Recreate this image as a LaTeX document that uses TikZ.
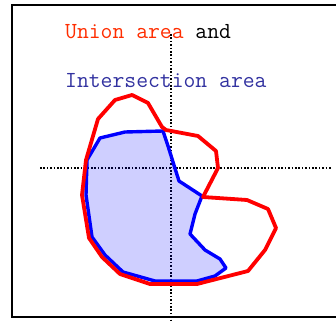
\documentclass[tikz,border=0pt]{standalone}
\usepackage{xcolor}
\usepackage{tikz}
\usetikzlibrary{calc}

\definecolor{unionred}{RGB}{255,45,0}
\definecolor{interblue}{RGB}{50,50,160}

\begin{document}
\begin{tikzpicture}[
        x=1pt, y=-1pt,
        frame/.style={draw, line width=1.5pt},
        axis/.style={draw, line width=1.6pt, dash pattern=on 1.6pt off 1.8pt},
        unionline/.style={draw=red, line width=3.8pt, line join=round},
        interline/.style={draw=blue, line width=3.4pt, line join=round, fill=blue, fill opacity=0.19},
        label/.style={anchor=base west, inner sep=0pt, font=\fontsize{23}{27}\selectfont\ttfamily}
    ]
    \useasboundingbox (0,0) rectangle (336,320);
    \clip (0,0) rectangle (336,320);

    % Frame
    \path [frame] (12,5) rectangle (345,317);

    % Labels
    \node [label] (union) at (65,39) {\textcolor{unionred}{Union area} and};
    \node [label, text=interblue] (inter) at (65,88) {Intersection area};

    % Axes
    \path [axis] (40,168) -- (332,168);
    \path [axis] (171,34) -- (171,320);

    % Intersection area
    \path [interline] (87,160) -- (100,138) -- (125,132) -- (163,131) -- (168,146)
        -- (173,162) -- (179,181) -- (202,196) -- (195,214) -- (190,234)
        -- (205,250) -- (220,259) -- (226,268) -- (215,276) -- (197,281)
        -- (155,281) -- (123,272) -- (105,255) -- (92,237) -- (86,195) -- cycle;

    % Union area
    \path [unionline] (86,160) -- (98,119) -- (115,100) -- (132,95) -- (148,103)
        -- (162,127) -- (166,130) -- (198,136) -- (216,151) -- (218,168)
        -- (203,197) -- (247,200) -- (268,209) -- (276,228) -- (265,250)
        -- (248,271) -- (197,284) -- (150,284) -- (120,274) -- (102,257)
        -- (89,238) -- (82,195) -- cycle;

\end{tikzpicture}
\end{document}
